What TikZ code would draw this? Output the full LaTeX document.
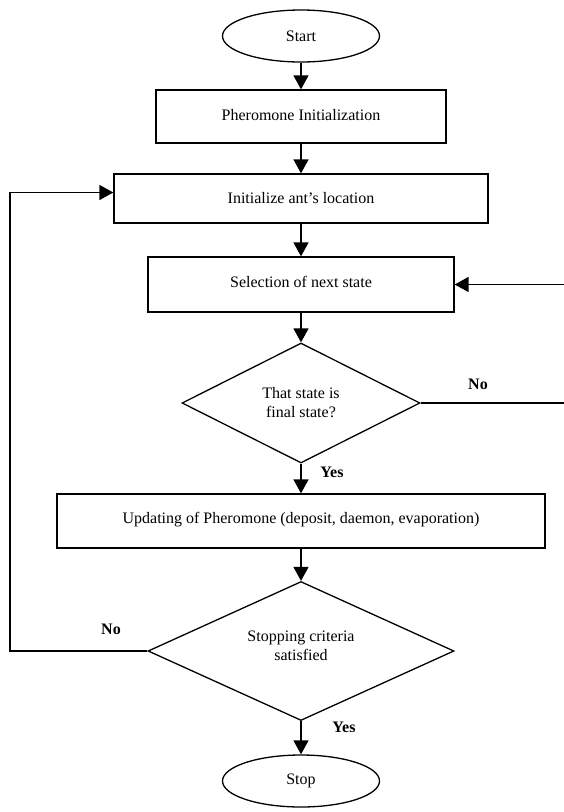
\documentclass[tikz,border=0pt]{standalone}
\usepackage{fontspec}
\setmainfont{Liberation Serif}
\usetikzlibrary{shapes.geometric,arrows.meta}
\begin{document}
\begin{tikzpicture}[x=1pt,y=-1pt,
  font=\fontsize{16}{19}\selectfont,
  term/.style={draw, ellipse, line width=1.3pt, minimum width=157pt, minimum height=52pt, inner sep=0pt},
  procbox/.style={draw, rectangle, line width=1.3pt, inner sep=0pt, align=center},
  decision/.style={draw, diamond, line width=1.3pt, inner sep=0pt, align=center},
  flow/.style={line width=1.4pt, -{Triangle[length=14pt,width=15pt]}},
  lbl/.style={font=\fontsize{16}{19}\selectfont\bfseries}]
\useasboundingbox (0,0) rectangle (563,812);
\node[term] (start) at (301,36) {Start};
\node[procbox, minimum width=290pt, minimum height=53pt] (pher) at (301,116.5) {\raisebox{4pt}{Pheromone Initialization}};
\node[procbox, minimum width=374pt, minimum height=49pt] (init) at (301,198.5) {\raisebox{2pt}{Initialize ant’s location}};
\node[procbox, minimum width=306pt, minimum height=55pt] (sel) at (301,284.5) {\raisebox{6pt}{Selection of next state}};
\node[decision, minimum width=238pt, minimum height=120pt] (d1) at (301,403) {That state is\\final state?};
\node[procbox, minimum width=488pt, minimum height=54pt] (upd) at (301,521) {\raisebox{6pt}{Updating of Pheromone (deposit, daemon, evaporation)}};
\node[decision, minimum width=306pt, minimum height=139pt,
      label={[align=center, yshift=5pt]center:Stopping criteria\\satisfied}] (d2) at (301,651) {};
\node[term] (stop) at (301,781) {Stop};
\coordinate (r1) at (567,403);
\coordinate (l1) at (10,651);
\draw[flow] (start) -- (pher);
\draw[flow] (pher) -- (init);
\draw[flow] (init) -- (sel);
\draw[flow] (sel) -- (d1);
\draw[flow] (d1) -- (upd);
\draw[flow] (upd) -- (d2);
\draw[flow] (d2) -- (stop);
\draw[flow] (d1.east) -- (r1) |- (sel.east);
\draw[flow] (d2.west) -- (l1) |- ([yshift=6pt]init.west);
\node[lbl] (yes1) at (332,472) {Yes};
\node[lbl] (yes2) at (344,727) {Yes};
\node[lbl] (no1) at (478,384) {No};
\node[lbl] (no2) at (111,629) {No};
\end{tikzpicture}
\end{document}
